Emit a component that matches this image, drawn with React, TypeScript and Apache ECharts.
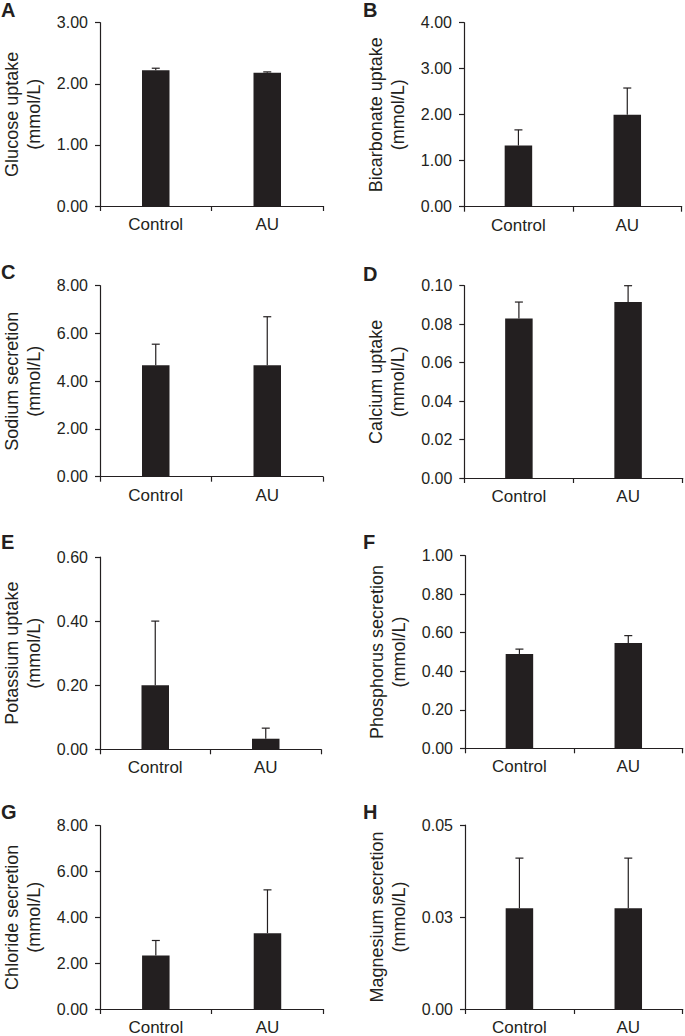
import React, { useEffect, useRef } from "react";
import * as echarts from "echarts";

// ---- data ----
const categories = ["Control", "AU"];

const panelLetters = ["A", "B", "C", "D", "E", "F", "G", "H"];
const panelNames = [
  "Glucose uptake\n(mmol/L)",
  "Bicarbonate uptake\n(mmol/L)",
  "Sodium secretion\n(mmol/L)",
  "Calcium uptake\n(mmol/L)",
  "Potassium uptake\n(mmol/L)",
  "Phosphorus secretion\n(mmol/L)",
  "Chloride secretion\n(mmol/L)",
  "Magnesium secretion\n(mmol/L)",
];

const glucoseMean = [2.22, 2.18];
const glucoseErr = [0.035, 0.015];
const bicarbonateMean = [1.33, 2.0];
const bicarbonateErr = [0.34, 0.58];
const sodiumMean = [4.67, 4.67];
const sodiumErr = [0.88, 2.03];
const calciumMean = [0.083, 0.0915];
const calciumErr = [0.0085, 0.0085];
const potassiumMean = [0.2, 0.033];
const potassiumErr = [0.2, 0.033];
const phosphorusMean = [0.49, 0.547];
const phosphorusErr = [0.025, 0.038];
const chlorideMean = [2.34, 3.31];
const chlorideErr = [0.65, 1.89];
const magnesiumMean = [0.0274, 0.0274];
const magnesiumErr = [0.0136, 0.0136];

const means = [glucoseMean, bicarbonateMean, sodiumMean, calciumMean, potassiumMean, phosphorusMean, chlorideMean, magnesiumMean];
const errs = [glucoseErr, bicarbonateErr, sodiumErr, calciumErr, potassiumErr, phosphorusErr, chlorideErr, magnesiumErr];

// y-axis tick scales (max, step)
const yMax = [3, 4, 8, 0.1, 0.6, 1, 8, 0.05];
const yStep = [1, 1, 2, 0.02, 0.2, 0.2, 2, 0.025];

// ---- layout ----
const grids = [
  { left: 98, top: 22.7, width: 225, height: 183.3 },
  { left: 464, top: 22.7, width: 217.7, height: 184 },
  { left: 98.3, top: 285.7, width: 224.7, height: 191 },
  { left: 464.3, top: 285.7, width: 218.4, height: 192.3 },
  { left: 97, top: 557, width: 224, height: 192.3 },
  { left: 465, top: 555.7, width: 217.7, height: 192.6 },
  { left: 97, top: 825.7, width: 226.3, height: 183.6 },
  { left: 465, top: 825, width: 217.7, height: 184.3 },
];
const letterPos = [
  [1, 0],
  [363, 0],
  [1, 261.5],
  [363, 263.5],
  [1, 531.5],
  [363, 531.5],
  [1, 801.5],
  [363, 801.5],
];

const FONT = "'Liberation Sans', Arial, Helvetica, sans-serif";
const INK = "#231f20";

export default function App() {
  const ref = useRef<HTMLDivElement>(null);

  useEffect(() => {
    document.body.style.margin = "0";
    const chart = echarts.init(ref.current!, null, { renderer: "svg" });

    const grid = grids.map((g) => ({ ...g, containLabel: false }));
    const xAxis = grids.map((_, i) => ({
      type: "category",
      gridIndex: i,
      data: categories,
      axisLine: { lineStyle: { color: INK, width: 1.2 } },
      axisTick: { show: true, length: 5, lineStyle: { color: INK, width: 1.2 } },
      axisLabel: { color: INK, fontSize: 17, fontFamily: FONT, margin: 10 },
      splitLine: { show: false },
    }));
    const yAxis = grids.map((_, i) => ({
      type: "value",
      gridIndex: i,
      min: 0,
      max: yMax[i],
      interval: yStep[i],
      name: panelNames[i],
      nameLocation: "middle",
      nameRotate: 90,
      nameGap: 55,
      nameTextStyle: { color: INK, fontSize: 18, fontFamily: FONT, lineHeight: 22 },
      axisLine: { show: true, lineStyle: { color: INK, width: 1.2 } },
      axisTick: { show: true, length: 5, lineStyle: { color: INK, width: 1.2 } },
      axisLabel: {
        color: INK,
        fontSize: 16,
        fontFamily: FONT,
        margin: 12,
        formatter: (v: number) => v.toFixed(2),
      },
      splitLine: { show: false },
    }));

    const series: any[] = [];
    grids.forEach((_, i) => {
      series.push({
        type: "bar",
        xAxisIndex: i,
        yAxisIndex: i,
        data: means[i],
        barWidth: 27.5,
        itemStyle: { color: INK },
      });
      series.push({
        type: "custom",
        xAxisIndex: i,
        yAxisIndex: i,
        data: means[i].map((m, k) => [k, m, errs[i][k]]),
        renderItem: (params: any, api: any) => {
          const c = api.value(0);
          const m = api.value(1);
          const e = api.value(2);
          const p0 = api.coord([c, m]);
          const p1 = api.coord([c, m + e]);
          const st = { stroke: INK, lineWidth: 1.2 };
          return {
            type: "group",
            children: [
              { type: "line", shape: { x1: p0[0], y1: p0[1], x2: p1[0], y2: p1[1] }, style: st },
              { type: "line", shape: { x1: p1[0] - 4, y1: p1[1], x2: p1[0] + 4, y2: p1[1] }, style: st },
            ],
          };
        },
        z: 3,
      });
    });

    const graphic = panelLetters.map((t, i) => ({
      type: "text",
      x: letterPos[i][0],
      y: letterPos[i][1],
      style: {
        text: t,
        fill: INK,
        font: `bold 20px ${FONT}`,
        verticalAlign: "top",
        align: "left",
      },
    }));

    chart.setOption({
      animation: false,
      backgroundColor: "#ffffff",
      grid,
      xAxis,
      yAxis,
      series,
      graphic,
    } as any);

    return () => chart.dispose();
  }, []);

  return (
    <div
      ref={ref}
      style={{ position: "absolute", left: 0, top: 0, width: 685, height: 1036 }}
    />
  );
}
